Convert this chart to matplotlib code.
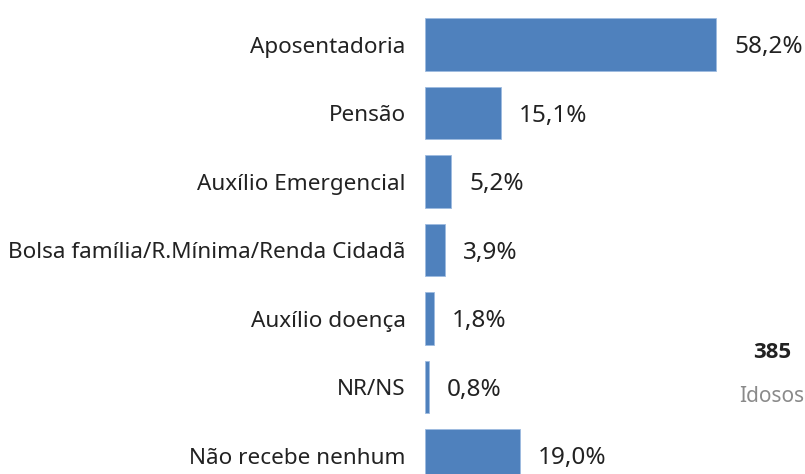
import matplotlib.pyplot as plt

categorias = ['Aposentadoria', 'Pensão', 'Auxílio Emergencial',
              'Bolsa família/R.Mínima/Renda Cidadã', 'Auxílio doença',
              'NR/NS', 'Não recebe nenhum']
valores = [58.2, 15.1, 5.2, 3.9, 1.8, 0.8, 19.0]
rotulos = ['58,2%', '15,1%', '5,2%', '3,9%', '1,8%', '0,8%', '19,0%']
total = '385'
unidade = 'Idosos'

plt.rcParams['font.family'] = ['Noto Sans', 'DejaVu Sans']

fig = plt.figure(figsize=(8.05, 4.74), dpi=100)
ax = fig.add_axes([425 / 805, 0, 380 / 805, 1])

pos = list(range(len(categorias)))
ax.barh(pos, valores, height=0.77, color='#4f81bd', edgecolor='#9dbbe0', linewidth=0.6)

ax.set_xlim(0, 76)
ax.set_ylim(6.27, -0.65)

for p, v, r in zip(pos, valores, rotulos):
    ax.annotate(r, (v, p), xytext=(13, -2), textcoords='offset points',
                ha='left', va='center', fontsize=17.5, color='#222222')

ax.set_yticks(pos)
ax.set_yticklabels(categorias, fontsize=16.2, color='#222222')
ax.tick_params(axis='y', length=0, pad=14)
ax.set_xticks([])
for s in ax.spines.values():
    s.set_visible(False)

fig.text(772 / 805, 1 - 352 / 474, total, ha='center', va='center',
         fontsize=16, fontweight='bold', color='#222222',
         family=['Open Sans', 'DejaVu Sans'])
fig.text(772 / 805, 1 - 396 / 474, unidade, ha='center', va='center',
         fontsize=15, color='#8a8a8a')

fig.savefig('out.png', dpi=100)
